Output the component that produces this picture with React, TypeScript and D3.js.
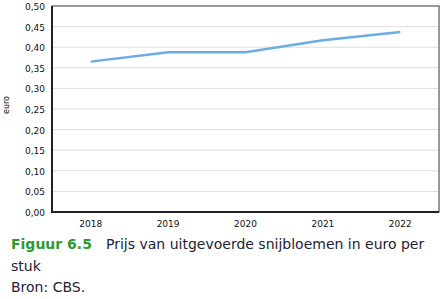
import React from "react";
import * as d3 from "d3";

const years = ["2018", "2019", "2020", "2021", "2022"];
const prices = [0.365, 0.388, 0.388, 0.417, 0.437];
const yTicks = [0, 0.05, 0.1, 0.15, 0.2, 0.25, 0.3, 0.35, 0.4, 0.45, 0.5];
const figLabel = "Figuur 6.5";
const titleLine1 = "Prijs van uitgevoerde snijbloemen in euro per";
const titleLine2 = "stuk";
const source = "Bron: CBS.";
const yAxisTitle = "euro";

const W = 448;
const H = 299;
const m = { left: 52, right: 439, top: 6, bottom: 212 };

export default function App() {
  const x = d3.scaleBand<string>().domain(years).range([m.left, m.right]);
  const y = d3.scaleLinear().domain([0, 0.5]).range([m.bottom, m.top]);
  const fmt = (v: number) => d3.format(".2f")(v).replace(".", ",");
  const line = d3
    .line<number>()
    .x((_, i) => (x(years[i]) as number) + x.bandwidth() / 2)
    .y((d) => y(d));
  const font = "DejaVu Sans, Verdana, sans-serif";
  return (
    <svg
      width={W}
      height={H}
      style={{ position: "absolute", left: 0, top: 0, background: "#fff" }}
      fontFamily={font}
    >
      <rect x={0} y={0} width={W} height={H} fill="#fff" />
      {yTicks.map((t) => (
        <g key={t}>
          {t > 0 && t < 0.5 && (
            <line x1={m.left} x2={m.right} y1={y(t)} y2={y(t)} stroke="#dddddd" strokeWidth={1} />
          )}
          <text x={45} y={y(t) + 4} textAnchor="end" fontSize={9} fill="#111">
            {fmt(t)}
          </text>
        </g>
      ))}
      <rect
        x={m.left}
        y={m.top}
        width={m.right - m.left}
        height={m.bottom - m.top}
        fill="none"
        stroke="#555"
        strokeWidth={1.2}
      />
      <line x1={m.left} x2={m.left} y1={m.top} y2={m.bottom + 1} stroke="#222" strokeWidth={2} />
      <line x1={m.left} x2={m.right} y1={m.bottom} y2={m.bottom} stroke="#222" strokeWidth={2} />
      {years.map((yr) => (
        <text
          key={yr}
          x={(x(yr) as number) + x.bandwidth() / 2}
          y={227}
          textAnchor="middle"
          fontSize={9}
          fill="#111"
        >
          {yr}
        </text>
      ))}
      <text
        transform={`translate(8.5,105) rotate(-90)`}
        textAnchor="middle"
        fontSize={8}
        fill="#111"
      >
        {yAxisTitle}
      </text>
      <path d={line(prices) || ""} fill="none" stroke="#6aade4" strokeWidth={2.5} />
      <text x={11} y={249} fontSize={14} fill="#2e9a2e" fontWeight="bold">
        {figLabel}
      </text>
      <text x={106} y={249} fontSize={14} fill="#222233">
        {titleLine1}
      </text>
      <text x={11} y={271} fontSize={14} fill="#222233">
        {titleLine2}
      </text>
      <text x={11} y={292} fontSize={14} fill="#222233">
        {source}
      </text>
    </svg>
  );
}
